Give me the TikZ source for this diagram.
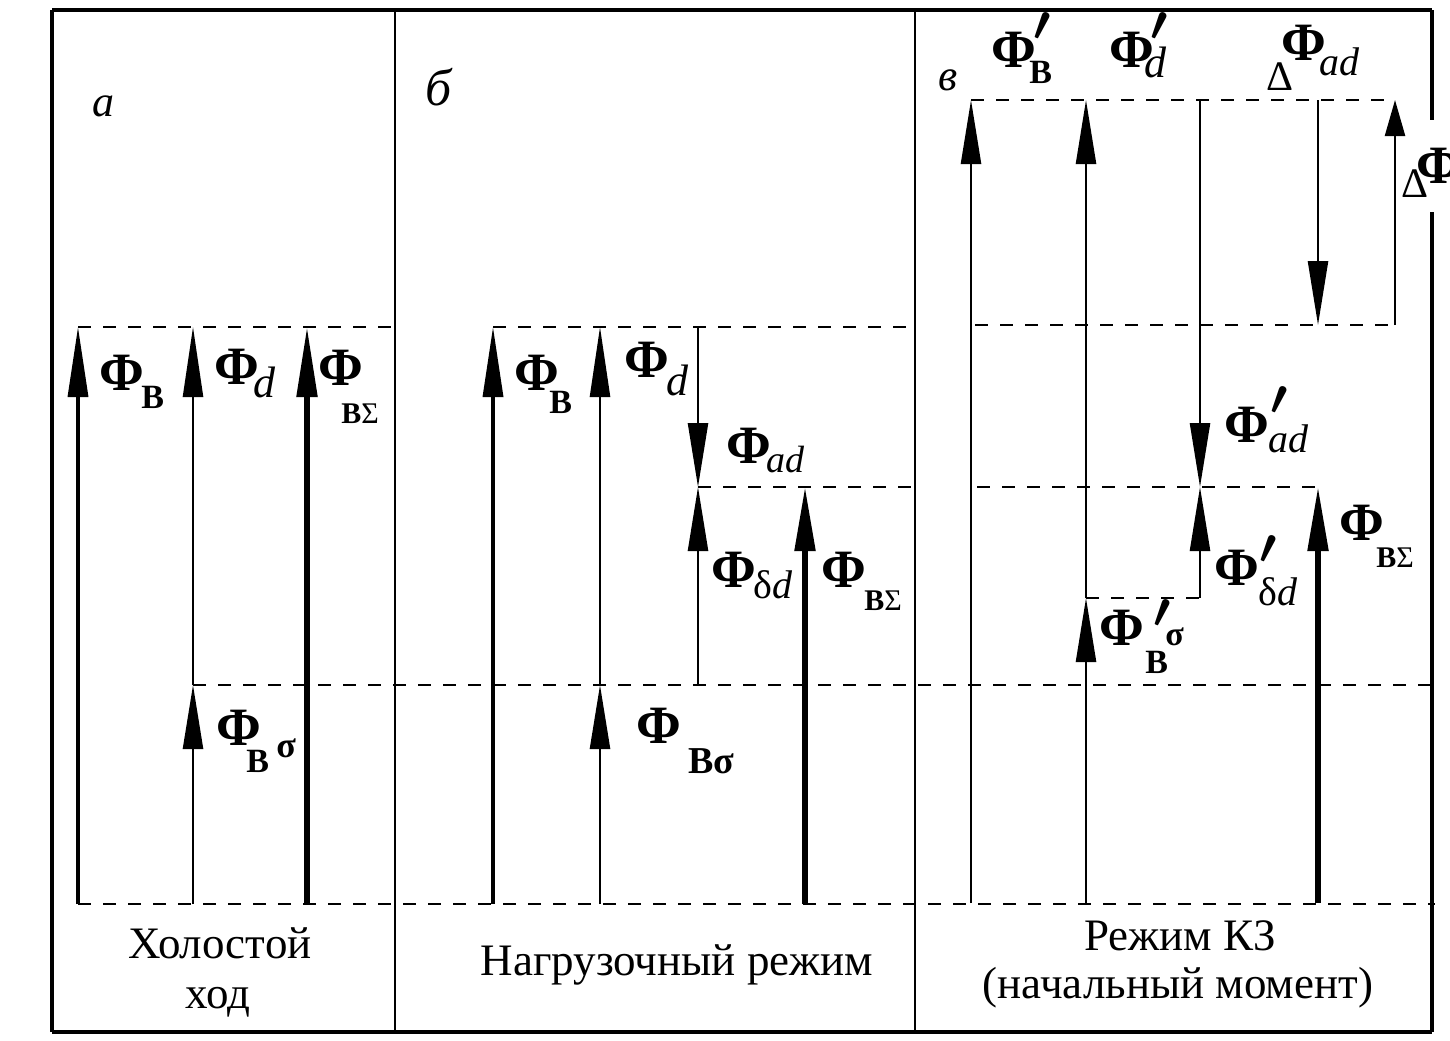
\documentclass[tikz,border=0pt]{standalone}
\usepackage{fontspec}
\setmainfont{Liberation Serif}
\usetikzlibrary{arrows.meta}
\newcommand{\At}[4]{\rlap{\hspace*{#1pt}\raisebox{#2pt}{\fontsize{#3}{#3}\selectfont #4}}}
\newcommand{\FF}{\At{0}{0}{27}{\bfseries Φ}}
\newcommand{\PP}[2]{\At{#1}{#2}{24.88}{\boldmath$\prime$}}
\tikzset{
  ar/.style={-{Triangle[length=32pt,width=10pt]}},
  arL/.style={-{Triangle[length=35pt,width=10pt]}},
  thin1/.style={line width=1.2pt},
  med1/.style={line width=1.7pt},
  thk1/.style={line width=2.6pt},
  dsh/.style={line width=1pt,dash pattern=on 6.5pt off 6pt},
  bord/.style={line width=1.6pt},
  divl/.style={line width=1.1pt},
  lab/.style={inner sep=0pt,anchor=base west},
  txt/.style={inner sep=0pt,anchor=base,font=\fontsize{22.5}{27}\selectfont},
  plet/.style={inner sep=0pt,anchor=base west,font=\fontsize{22}{22}\selectfont\itshape}
}
\begin{document}
\begin{tikzpicture}[x=0.5pt,y=-0.5pt]
\useasboundingbox (0,0) rectangle (1450,1040);
\fill[white] (0,0) rectangle (1450,1040);
% frame
\draw[bord] (52,10) -- (1432,10);
\draw[bord] (52,10) -- (52,1032);
\draw[bord] (52,1032) -- (1432,1032);
\draw[bord] (1432,10) -- (1432,120);
\draw[bord] (1432,212) -- (1432,1032);
\draw[divl] (395,10) -- (395,1032);
\draw[divl] (915,10) -- (915,1032);
% coordinates
\coordinate (a1b) at (78,904);   \coordinate (a1t) at (78,327);
\coordinate (a2b) at (193,904);  \coordinate (a2m) at (193,685); \coordinate (a2t) at (193,327);
\coordinate (a3b) at (307,904);  \coordinate (a3t) at (307,327);
\coordinate (b1b) at (493,904);  \coordinate (b1t) at (493,327);
\coordinate (b2b) at (600,904);  \coordinate (b2m) at (600,685); \coordinate (b2t) at (600,327);
\coordinate (b3t) at (698,327);  \coordinate (b3m) at (698,487); \coordinate (b3b) at (698,685);
\coordinate (b4b) at (805,904);  \coordinate (b4t) at (805,487);
\coordinate (c1b) at (971,903);  \coordinate (c1t) at (971,100);
\coordinate (c2b) at (1086,903); \coordinate (c2m) at (1086,598); \coordinate (c2t) at (1086,100);
\coordinate (c3t) at (1200,100); \coordinate (c3m) at (1200,487); \coordinate (c3b) at (1200,598);
\coordinate (c4b) at (1318,903); \coordinate (c4t) at (1318,487);
\coordinate (c5t) at (1318,100); \coordinate (c5b) at (1318,325);
\coordinate (c6b) at (1395,325); \coordinate (c6t) at (1395,100);
\coordinate (da1) at (395,327);  \coordinate (db1) at (915,327);
\coordinate (dc2) at (975,325);
\coordinate (db3) at (915,487);  \coordinate (dc3) at (977,487);
\coordinate (de6) at (1435,685); \coordinate (de9) at (1435,904);
% dashed levels
\draw[dsh] (a1t) -- (da1);
\draw[dsh] (b1t) -- (db1);
\draw[dsh] (c1t) -- (c6t);
\draw[dsh] (dc2) -- (c6b);
\draw[dsh] (b3m) -- (db3);
\draw[dsh] (dc3) -- (c4t);
\draw[dsh] (c2m) -- (c3b);
\draw[dsh] (a2m) -- (de6);
\draw[dsh] (a1b) -- (de9);
% panel a arrows
\draw[med1,arL] (a1b) -- (a1t);
\draw[thin1,ar] (a2b) -- (a2m);
\draw[thin1,arL] (a2m) -- (a2t);
\draw[thk1,arL] (a3b) -- (a3t);
% panel b arrows
\draw[med1,arL] (b1b) -- (b1t);
\draw[thin1,ar] (b2b) -- (b2m);
\draw[thin1,arL] (b2m) -- (b2t);
\draw[thin1,ar] (b3t) -- (b3m);
\draw[thin1,ar] (b3b) -- (b3m);
\draw[thk1,ar] (b4b) -- (b4t);
% panel c arrows
\draw[thin1,ar] (c1b) -- (c1t);
\draw[thin1,ar] (c2b) -- (c2m);
\draw[thin1,ar] (c2m) -- (c2t);
\draw[thin1,ar] (c3t) -- (c3m);
\draw[thin1,ar] (c3b) -- (c3m);
\draw[thk1,ar] (c4b) -- (c4t);
\draw[thin1,ar] (c5t) -- (c5b);
\draw[thin1,-{Triangle[length=18pt,width=10pt]}] (c6b) -- (c6t);
% panel letters
\node[plet] (pa) at (92,116) {а};
\node[plet,font=\fontsize{26}{26}\selectfont\itshape] (pb) at (425,105) {б};
\node[plet] (pc) at (938,90) {в};
% labels panel a
\node[lab] (la1) at (98,390) {\FF\At{21}{-9}{17}{\bfseries В}};
\node[lab] (la2) at (213,384) {\FF\At{19.5}{-6.5}{22}{\itshape d}};
\node[lab] (la3) at (317,385) {\FF\At{11.5}{-19}{15}{\bfseries В\mdseries Σ}};
\node[lab] (la4) at (215,745) {\FF\At{15}{-13.5}{17}{\bfseries В}\At{30}{-6}{18}{\bfseries σ}};
% labels panel b
\node[lab] (lb1) at (513,390) {\FF\At{17.5}{-11.5}{17}{\bfseries В}};
\node[lab] (lb2) at (623,377) {\FF\At{21}{-9}{22}{\itshape d}};
\node[lab] (lb3) at (725,463) {\FF\At{20}{-4.5}{19}{\itshape ad}};
\node[lab] (lb4) at (710,587) {\FF\At{21}{-5.5}{20}{δ\itshape d}};
\node[lab] (lb5) at (820,587) {\FF\At{21.5}{-11.5}{15}{\bfseries В\mdseries Σ}};
\node[lab] (lb6) at (635,743) {\FF\At{26}{-15}{19}{\bfseries Вσ}};
% labels panel c
\node[lab] (lc1) at (990,67) {\FF\PP{21}{13.5}\At{19}{-8}{17}{\bfseries В}};
\node[lab] (lc2) at (1108,67) {\FF\PP{20.5}{13.5}\At{17.5}{-5}{22}{\itshape d}};
\node[lab] (lc3) at (1280,60) {\FF\At{-7.5}{-15}{21}{Δ}\At{19}{-7.5}{20}{\itshape ad}};
\node[lab] (lc4) at (1415,183) {\FF\At{-7.5}{-7}{21}{Δ}};
\node[lab] (lc5) at (1223,442) {\FF\PP{23}{14}\At{22}{-5}{20}{\itshape ad}};
\node[lab] (lc6) at (1213,585) {\FF\PP{22.5}{11}\At{22}{-10}{20}{δ\itshape d}};
\node[lab] (lc7) at (1338,540) {\FF\At{18.5}{-13.5}{15}{\bfseries В\mdseries Σ}};
\node[lab] (lc8) at (1098,645) {\FF\PP{27}{9}\At{23}{-14}{17}{\bfseries В}\At{33}{0}{17}{\bfseries σ}};
% bottom texts
\node[txt] (t1) at (220,958) {Холостой};
\node[txt] (t2) at (218,1008) {ход};
\node[txt] (t3) at (677,975) {Нагрузочный режим};
\node[txt] (t4) at (1180,950) {Режим КЗ};
\node[txt] (t5) at (1178,998) {(начальный момент)};
\end{tikzpicture}
\end{document}
